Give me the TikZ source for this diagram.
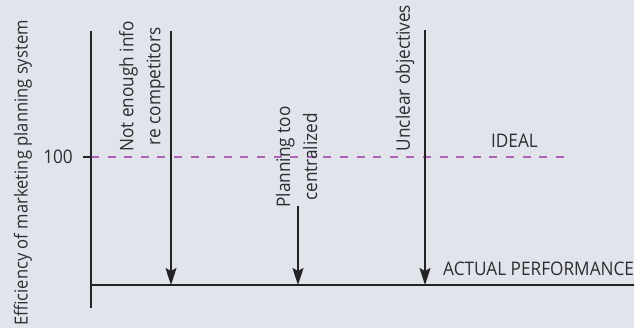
\documentclass[tikz,border=0pt]{standalone}
\usepackage{fontspec}
\setmainfont{Open Sans}[FakeStretch=0.92]
\usetikzlibrary{arrows.meta}
\definecolor{bg}{RGB}{225,228,235}
\definecolor{ink}{RGB}{35,35,38}
\definecolor{txt}{RGB}{45,45,50}
\definecolor{ideal}{RGB}{178,98,182}
\tikzset{
  axisline/.style={draw=ink, line width=1.4pt},
  causearrow/.style={draw=ink, line width=1.4pt, -{Stealth[length=17pt,width=11pt,inset=3pt]}},
  idealline/.style={draw=ideal, line width=1.8pt, dash pattern=on 8pt off 8.6pt},
  lbl/.style={text=txt, font=\fontsize{18.7}{27}\selectfont, inner sep=0pt},
  rlbl/.style={lbl, rotate=90, align=center},
}
\begin{document}
\begin{tikzpicture}[x=1pt,y=1pt]
\fill[bg] (0,0) rectangle (634,328);
\useasboundingbox (0,0) rectangle (634,328);
% coordinates
\coordinate (ytop) at (91,297);
\coordinate (ybot) at (91,20);
\coordinate (xl) at (91,43);
\coordinate (xr) at (634,43);
\coordinate (tick) at (83,171);
\coordinate (i0) at (91,171);
\coordinate (i1) at (564,171);
\coordinate (a1s) at (171,297);
\coordinate (a1e) at (171,43);
\coordinate (a2s) at (298,122);
\coordinate (a2e) at (298,43);
\coordinate (a3s) at (425,298);
\coordinate (a3e) at (425,43);
% ideal line
\draw[idealline] (i0) -- (i1);
% axes
\draw[axisline] (ytop) -- (ybot);
\draw[axisline] (xl) -- (xr);
\draw[axisline] (tick) -- (i0);
% arrows
\draw[causearrow] (a1s) -- (a1e);
\draw[causearrow] (a2s) -- (a2e);
\draw[causearrow] (a3s) -- (a3e);
% labels
\node[rlbl, font=\fontsize{18}{27}\selectfont] (ylab) at (23,155) {Efficiency of marketing planning system};
\node[lbl, anchor=east] (hundred) at (73,171) {100};
\node[rlbl] (lab1) at (142,241.5) {Not enough info\\re competitors};
\node[rlbl] (lab2) at (296.5,171) {Planning too\\centralized};
\node[rlbl] (lab3) at (405,250) {Unclear objectives};
\node[lbl, anchor=base] (idl) at (514.5,180) {IDEAL};
\node[lbl, anchor=base west] (act) at (443,52) {ACTUAL PERFORMANCE};
\end{tikzpicture}
\end{document}
